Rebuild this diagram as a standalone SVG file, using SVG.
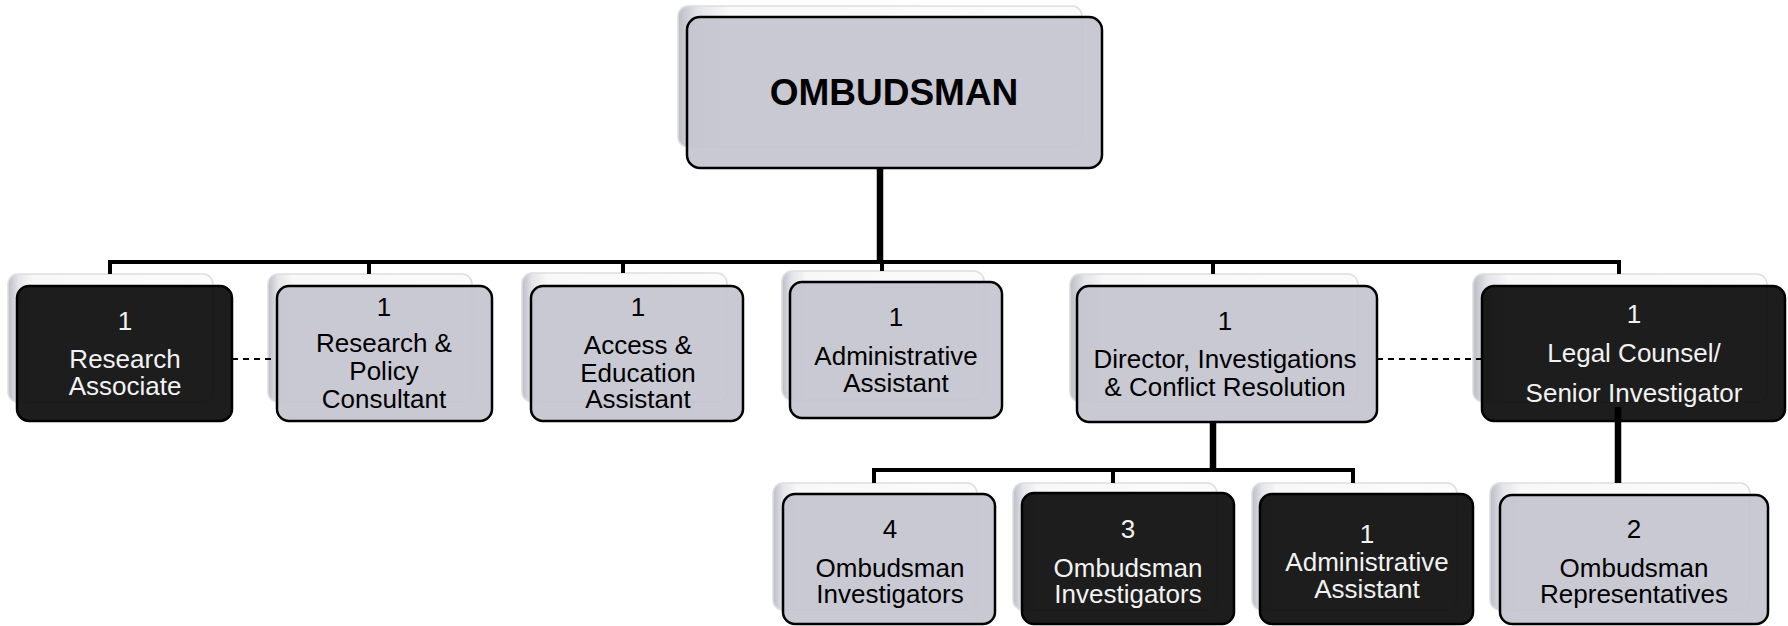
<svg xmlns="http://www.w3.org/2000/svg" width="1788" height="626" viewBox="0 0 1788 626">
<defs>
<linearGradient id="shg" x1="0" y1="0" x2="1" y2="0">
<stop offset="0" stop-color="#bcbcc6"/>
<stop offset="0.05" stop-color="#e4e4ea"/>
<stop offset="0.12" stop-color="#f8f8f8"/>
<stop offset="1" stop-color="#fbfbfb"/>
</linearGradient>
<style>
.sh{fill:url(#shg);stroke:#dedede;stroke-width:1.5}
.lt{fill:#c4c4cf;fill-opacity:0.92;stroke:#000;stroke-width:2.5}
.dk{fill:#0a0a0a;fill-opacity:0.92;stroke:#000;stroke-width:2.5}
.t{font-family:"Liberation Sans",Arial,sans-serif;font-size:26px;text-anchor:middle;fill:#000}
.tw{font-family:"Liberation Sans",Arial,sans-serif;font-size:26px;text-anchor:middle;fill:#f2f2f2}
.thin{stroke:#000;stroke-width:4;fill:none}
.thick{stroke:#000;stroke-width:6.5;fill:none}
.dash{stroke:#000;stroke-width:1.8;stroke-dasharray:6 5;fill:none}
</style>
</defs>
<rect width="1788" height="626" fill="#fff"/>

<g id="ombudsman">
<rect class="sh" x="678" y="6" width="404" height="141" rx="10"/>
<rect class="lt" x="687" y="17" width="415" height="151" rx="13"/>
<text x="894" y="105" style="font-family:'Liberation Sans',Arial,sans-serif;font-size:37px;font-weight:bold;text-anchor:middle;fill:#000">OMBUDSMAN</text>
</g>

<g id="research-associate">
<rect class="sh" x="8" y="274" width="205" height="128" rx="10"/>
<rect class="dk" x="17" y="286" width="215" height="135" rx="12"/>
<text class="tw" x="125" y="330">1</text>
<text class="tw" x="125" y="368">Research</text>
<text class="tw" x="125" y="395">Associate</text>
</g>

<g id="research-policy">
<rect class="sh" x="268" y="274" width="204" height="128" rx="10"/>
<rect class="lt" x="277" y="286" width="215" height="135" rx="12"/>
<text class="t" x="384" y="316">1</text>
<text class="t" x="384" y="352">Research &amp;</text>
<text class="t" x="384" y="380">Policy</text>
<text class="t" x="384" y="408">Consultant</text>
</g>

<g id="access-education">
<rect class="sh" x="522" y="273" width="205" height="129" rx="10"/>
<rect class="lt" x="531" y="286" width="212" height="135" rx="12"/>
<text class="t" x="638" y="316">1</text>
<text class="t" x="638" y="354">Access &amp;</text>
<text class="t" x="638" y="382">Education</text>
<text class="t" x="638" y="408">Assistant</text>
</g>

<g id="admin-assistant">
<rect class="sh" x="782" y="271" width="202" height="129" rx="10"/>
<rect class="lt" x="790" y="282" width="212" height="136" rx="12"/>
<text class="t" x="896" y="326">1</text>
<text class="t" x="896" y="365">Administrative</text>
<text class="t" x="896" y="392">Assistant</text>
</g>

<g id="director">
<rect class="sh" x="1070" y="274" width="288" height="128" rx="10"/>
<rect class="lt" x="1077" y="286" width="300" height="136" rx="12"/>
<text class="t" x="1225" y="330">1</text>
<text class="t" x="1225" y="368">Director, Investigations</text>
<text class="t" x="1225" y="396">&amp; Conflict Resolution</text>
</g>

<g id="legal-counsel">
<rect class="sh" x="1473" y="274" width="294" height="128" rx="10"/>
<rect class="dk" x="1482" y="286" width="303" height="135" rx="12"/>
<text class="tw" x="1634" y="323">1</text>
<text class="tw" x="1634" y="362">Legal Counsel/</text>
<text class="tw" x="1634" y="402">Senior Investigator</text>
</g>

<g id="ombudsman-investigators-4">
<rect class="sh" x="773" y="483" width="204" height="127" rx="10"/>
<rect class="lt" x="783" y="494" width="212" height="130" rx="12"/>
<text class="t" x="890" y="538">4</text>
<text class="t" x="890" y="577">Ombudsman</text>
<text class="t" x="890" y="603">Investigators</text>
</g>

<g id="ombudsman-investigators-3">
<rect class="sh" x="1013" y="483" width="204" height="127" rx="10"/>
<rect class="dk" x="1022" y="493" width="212" height="131" rx="12"/>
<text class="tw" x="1128" y="538">3</text>
<text class="tw" x="1128" y="577">Ombudsman</text>
<text class="tw" x="1128" y="603">Investigators</text>
</g>

<g id="admin-assistant-2">
<rect class="sh" x="1252" y="483" width="205" height="127" rx="10"/>
<rect class="dk" x="1260" y="494" width="213" height="130" rx="12"/>
<text class="tw" x="1367" y="543">1</text>
<text class="tw" x="1367" y="571">Administrative</text>
<text class="tw" x="1367" y="598">Assistant</text>
</g>

<g id="ombudsman-representatives">
<rect class="sh" x="1490" y="483" width="260" height="127" rx="10"/>
<rect class="lt" x="1500" y="495" width="268" height="129" rx="12"/>
<text class="t" x="1634" y="538">2</text>
<text class="t" x="1634" y="577">Ombudsman</text>
<text class="t" x="1634" y="603">Representatives</text>
</g>

<g id="connectors">
<line class="thick" x1="880" y1="168" x2="880" y2="262"/>
<polyline class="thin" points="110,274 110,262 1619,262 1619,274"/>
<line class="thin" x1="369" y1="262" x2="369" y2="274"/>
<line class="thin" x1="623" y1="262" x2="623" y2="273"/>
<line class="thin" x1="882" y1="262" x2="882" y2="271"/>
<line class="thin" x1="1213" y1="262" x2="1213" y2="274"/>
<line class="thick" x1="1213" y1="422" x2="1213" y2="470"/>
<polyline class="thin" points="874,483 874,470 1353,470 1353,483"/>
<line class="thin" x1="1113" y1="470" x2="1113" y2="483"/>
<line class="thick" x1="1618" y1="407" x2="1618" y2="483"/>
<line class="dash" x1="232" y1="359" x2="277" y2="359"/>
<line class="dash" x1="1377" y1="359" x2="1482" y2="359"/>
</g>
</svg>
